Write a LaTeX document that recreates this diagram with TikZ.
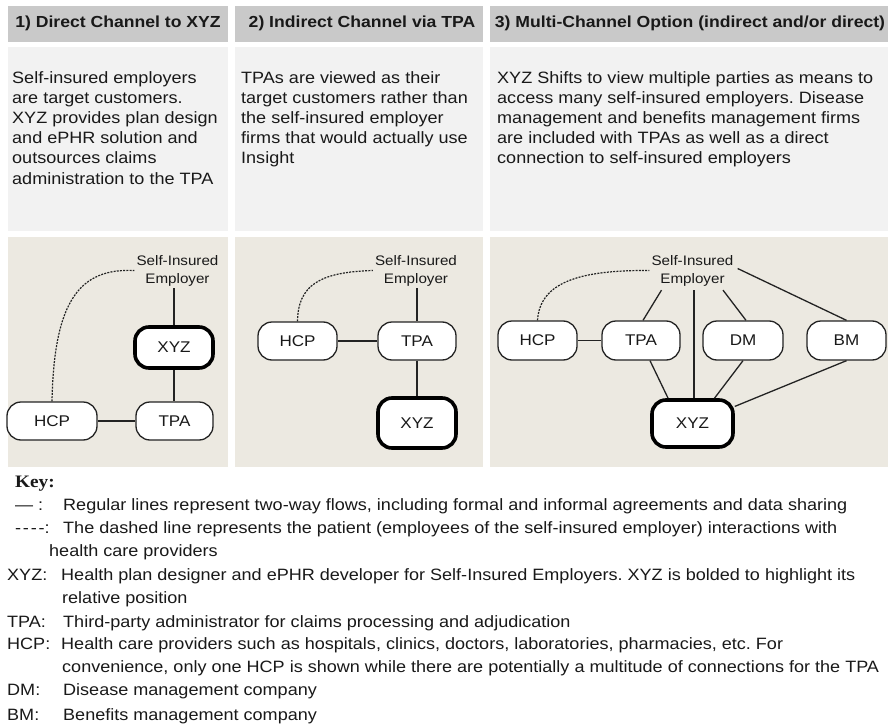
\documentclass[tikz,border=0pt]{standalone}
\usepackage{fontspec}
\setmainfont[FakeStretch=1.1]{Liberation Sans}
\newfontfamily\keyserif[FakeStretch=1.1]{Liberation Serif}
\usetikzlibrary{calc}
\definecolor{hdr}{RGB}{201,201,201}
\definecolor{txtbg}{RGB}{242,242,242}
\definecolor{dgbg}{RGB}{236,233,225}
\definecolor{ink}{RGB}{25,25,25}
\definecolor{edgec}{RGB}{35,35,35}
\frenchspacing
\begin{document}
\begin{tikzpicture}[x=1bp,y=-1bp,
  hdrtext/.style={inner sep=0, anchor=base, text=ink, font=\fontsize{16bp}{20bp}\selectfont\bfseries},
  para/.style={anchor=base west, inner sep=0, text=ink, font=\fontsize{16.4bp}{20bp}\selectfont},
  keytxt/.style={anchor=base west, inner sep=0, text=ink, font=\fontsize{16.4bp}{20bp}\selectfont},
  box/.style={draw=edgec, line width=1.3bp, rounded corners=14bp, fill=white, inner sep=0,
    text=ink, font=\fontsize{15.5bp}{18bp}\selectfont, minimum height=38bp, minimum width=78bp},
  boldbox/.style={box, draw=black, line width=3.6bp},
  link/.style={draw=edgec, line width=1.3bp},
  dashlink/.style={draw=edgec, line width=1.2bp, dash pattern=on 2bp off 1.2bp},
  emplabel/.style={align=center, inner sep=2bp, text=ink, font=\fontsize{13.8bp}{18bp}\selectfont}]
\useasboundingbox (0,0) rectangle (894,724);
\fill[white] (0,0) rectangle (894,724);
% header bars
\fill[hdr] (8,6) rectangle (228,42);
\fill[hdr] (235,6) rectangle (483,42);
\fill[hdr] (490,6) rectangle (888,42);
% text panels
\fill[txtbg] (8,47) rectangle (228,231);
\fill[txtbg] (235,47) rectangle (483,231);
\fill[txtbg] (490,47) rectangle (888,231);
% diagram panels
\fill[dgbg] (8,237) rectangle (228,467);
\fill[dgbg] (235,237) rectangle (483,467);
\fill[dgbg] (490,237) rectangle (888,467);
% headers
\node[hdrtext] (h1) at (118,28) {1) Direct Channel to XYZ};
\node[hdrtext] (h2) at (362,28) {2) Indirect Channel via TPA};
\node[hdrtext] (h3) at (690,28) {3) Multi-Channel Option (indirect and/or direct)};
% paragraphs
\foreach \t [count=\i] in {Self-insured employers, are target customers., XYZ provides plan design, and ePHR solution and, outsources claims, administration to the TPA}
  \node[para] (pa\i) at (12,{64+20*\i}) {\t};
\foreach \t [count=\i] in {TPAs are viewed as their, target customers rather than, the self-insured employer, firms that would actually use, Insight}
  \node[para] (pb\i) at (241,{64+20*\i}) {\t};
\foreach \t [count=\i] in {XYZ Shifts to view multiple parties as means to, access many self-insured employers. Disease, management and benefits management firms, are included with TPAs as well as a direct, connection to self-insured employers}
  \node[para] (pc\i) at (497,{64+20*\i}) {\t};
% ---- diagram 1
\node[emplabel] (emp1) at (177.5,270.5) {Self-Insured\\Employer};
\node[boldbox, minimum height=41bp] (xyz1) at (174,347.5) {XYZ};
\node[box, minimum width=77bp] (tpa1) at (174.5,421) {TPA};
\node[box, minimum width=90bp] (hcp1) at (52,421) {HCP};
\draw[link] (emp1.south -| xyz1) -- (xyz1.north);
\draw[link] (xyz1.south) -- (xyz1.south |- tpa1.north);
\draw[link] (hcp1.east) -- (tpa1.west);
\draw[dashlink] (hcp1.north) .. controls (54,300) and (80,268) .. (emp1.west);
% ---- diagram 2
\node[emplabel] (emp2) at (416,270.5) {Self-Insured\\Employer};
\node[box] (tpa2) at (417,341) {TPA};
\node[box, minimum width=79bp] (hcp2) at (297.5,341) {HCP};
\node[boldbox, minimum height=50bp] (xyz2) at (417,423) {XYZ};
\draw[link] (emp2.south -| tpa2) -- (tpa2.north);
\draw[link] (hcp2.east) -- (tpa2.west);
\draw[link] (tpa2.south) -- (xyz2.north);
\draw[dashlink] (hcp2.north) .. controls (298,285) and (320,272) .. (emp2.west);
% ---- diagram 3
\node[emplabel] (emp3) at (692.5,270.5) {Self-Insured\\Employer};
\node[box, minimum width=79bp, minimum height=39bp] (hcp3) at (537.5,340.5) {HCP};
\node[box, minimum height=39bp] (tpa3) at (641,340.5) {TPA};
\node[box, minimum width=80bp, minimum height=39bp] (dm3) at (743,340.5) {DM};
\node[box, minimum width=79bp, minimum height=39bp] (bm3) at (846.5,340.5) {BM};
\node[boldbox, minimum width=81bp, minimum height=47bp] (xyz3) at (692.5,423.5) {XYZ};
\coordinate (e3a) at ($(emp3.south)+(-31,2)$);
\coordinate (e3b) at ($(emp3.south)+(1.5,2)$);
\coordinate (e3c) at ($(emp3.south)+(30.5,2)$);
\coordinate (e3d) at ($(emp3.east)+(2,-2)$);
\draw[link] (hcp3.east) -- (tpa3.west);
\draw[link] (e3a) -- ($(tpa3.north)+(2,0)$);
\draw[link] (e3b) -- (e3b |- xyz3.north);
\draw[link] (e3c) -- ($(dm3.north)+(3,0)$);
\draw[link] (e3d) -- (bm3.north);
\draw[link] ($(tpa3.south)+(9,0)$) -- (xyz3.134);
\draw[link] (dm3.south) -- (xyz3.49);
\draw[link] (bm3.south) -- (xyz3.22);
\draw[dashlink] (hcp3.north) .. controls (540,282) and (580,270) .. (emp3.west);
% ---- key
\node[anchor=base west, inner sep=0, text=ink, font=\fontsize{17.5bp}{20bp}\keyserif\bfseries] (key) at (15,487) {Key:};
\node[keytxt] (k1l) at (15,510) {— :};
\node[keytxt] (k1t) at (63,510) {Regular lines represent two-way flows, including formal and informal agreements and data sharing};
\node[keytxt] (k2l) at (15,533) {-\kern1.8bp-\kern1.8bp-\kern1.8bp-:};
\node[keytxt] (k2t) at (63,533) {The dashed line represents the patient (employees of the self-insured employer) interactions with};
\node[keytxt] (k3t) at (49,556) {health care providers};
\node[keytxt] (k4l) at (7,580) {XYZ:};
\node[keytxt] (k4t) at (61,580) {Health plan designer and ePHR developer for Self-Insured Employers. XYZ is bolded to highlight its};
\node[keytxt] (k5t) at (62,603) {relative position};
\node[keytxt] (k6l) at (7,627) {TPA:};
\node[keytxt] (k6t) at (63,627) {Third-party administrator for claims processing and adjudication};
\node[keytxt] (k7l) at (7,649) {HCP:};
\node[keytxt] (k7t) at (61,649) {Health care providers such as hospitals, clinics, doctors, laboratories, pharmacies, etc. For};
\node[keytxt] (k8t) at (62,672) {convenience, only one HCP is shown while there are potentially a multitude of connections for the TPA};
\node[keytxt] (k9l) at (7,695) {DM:};
\node[keytxt] (k9t) at (63,695) {Disease management company};
\node[keytxt] (k10l) at (7,720) {BM:};
\node[keytxt] (k10t) at (63,720) {Benefits management company};
\end{tikzpicture}
\end{document}
